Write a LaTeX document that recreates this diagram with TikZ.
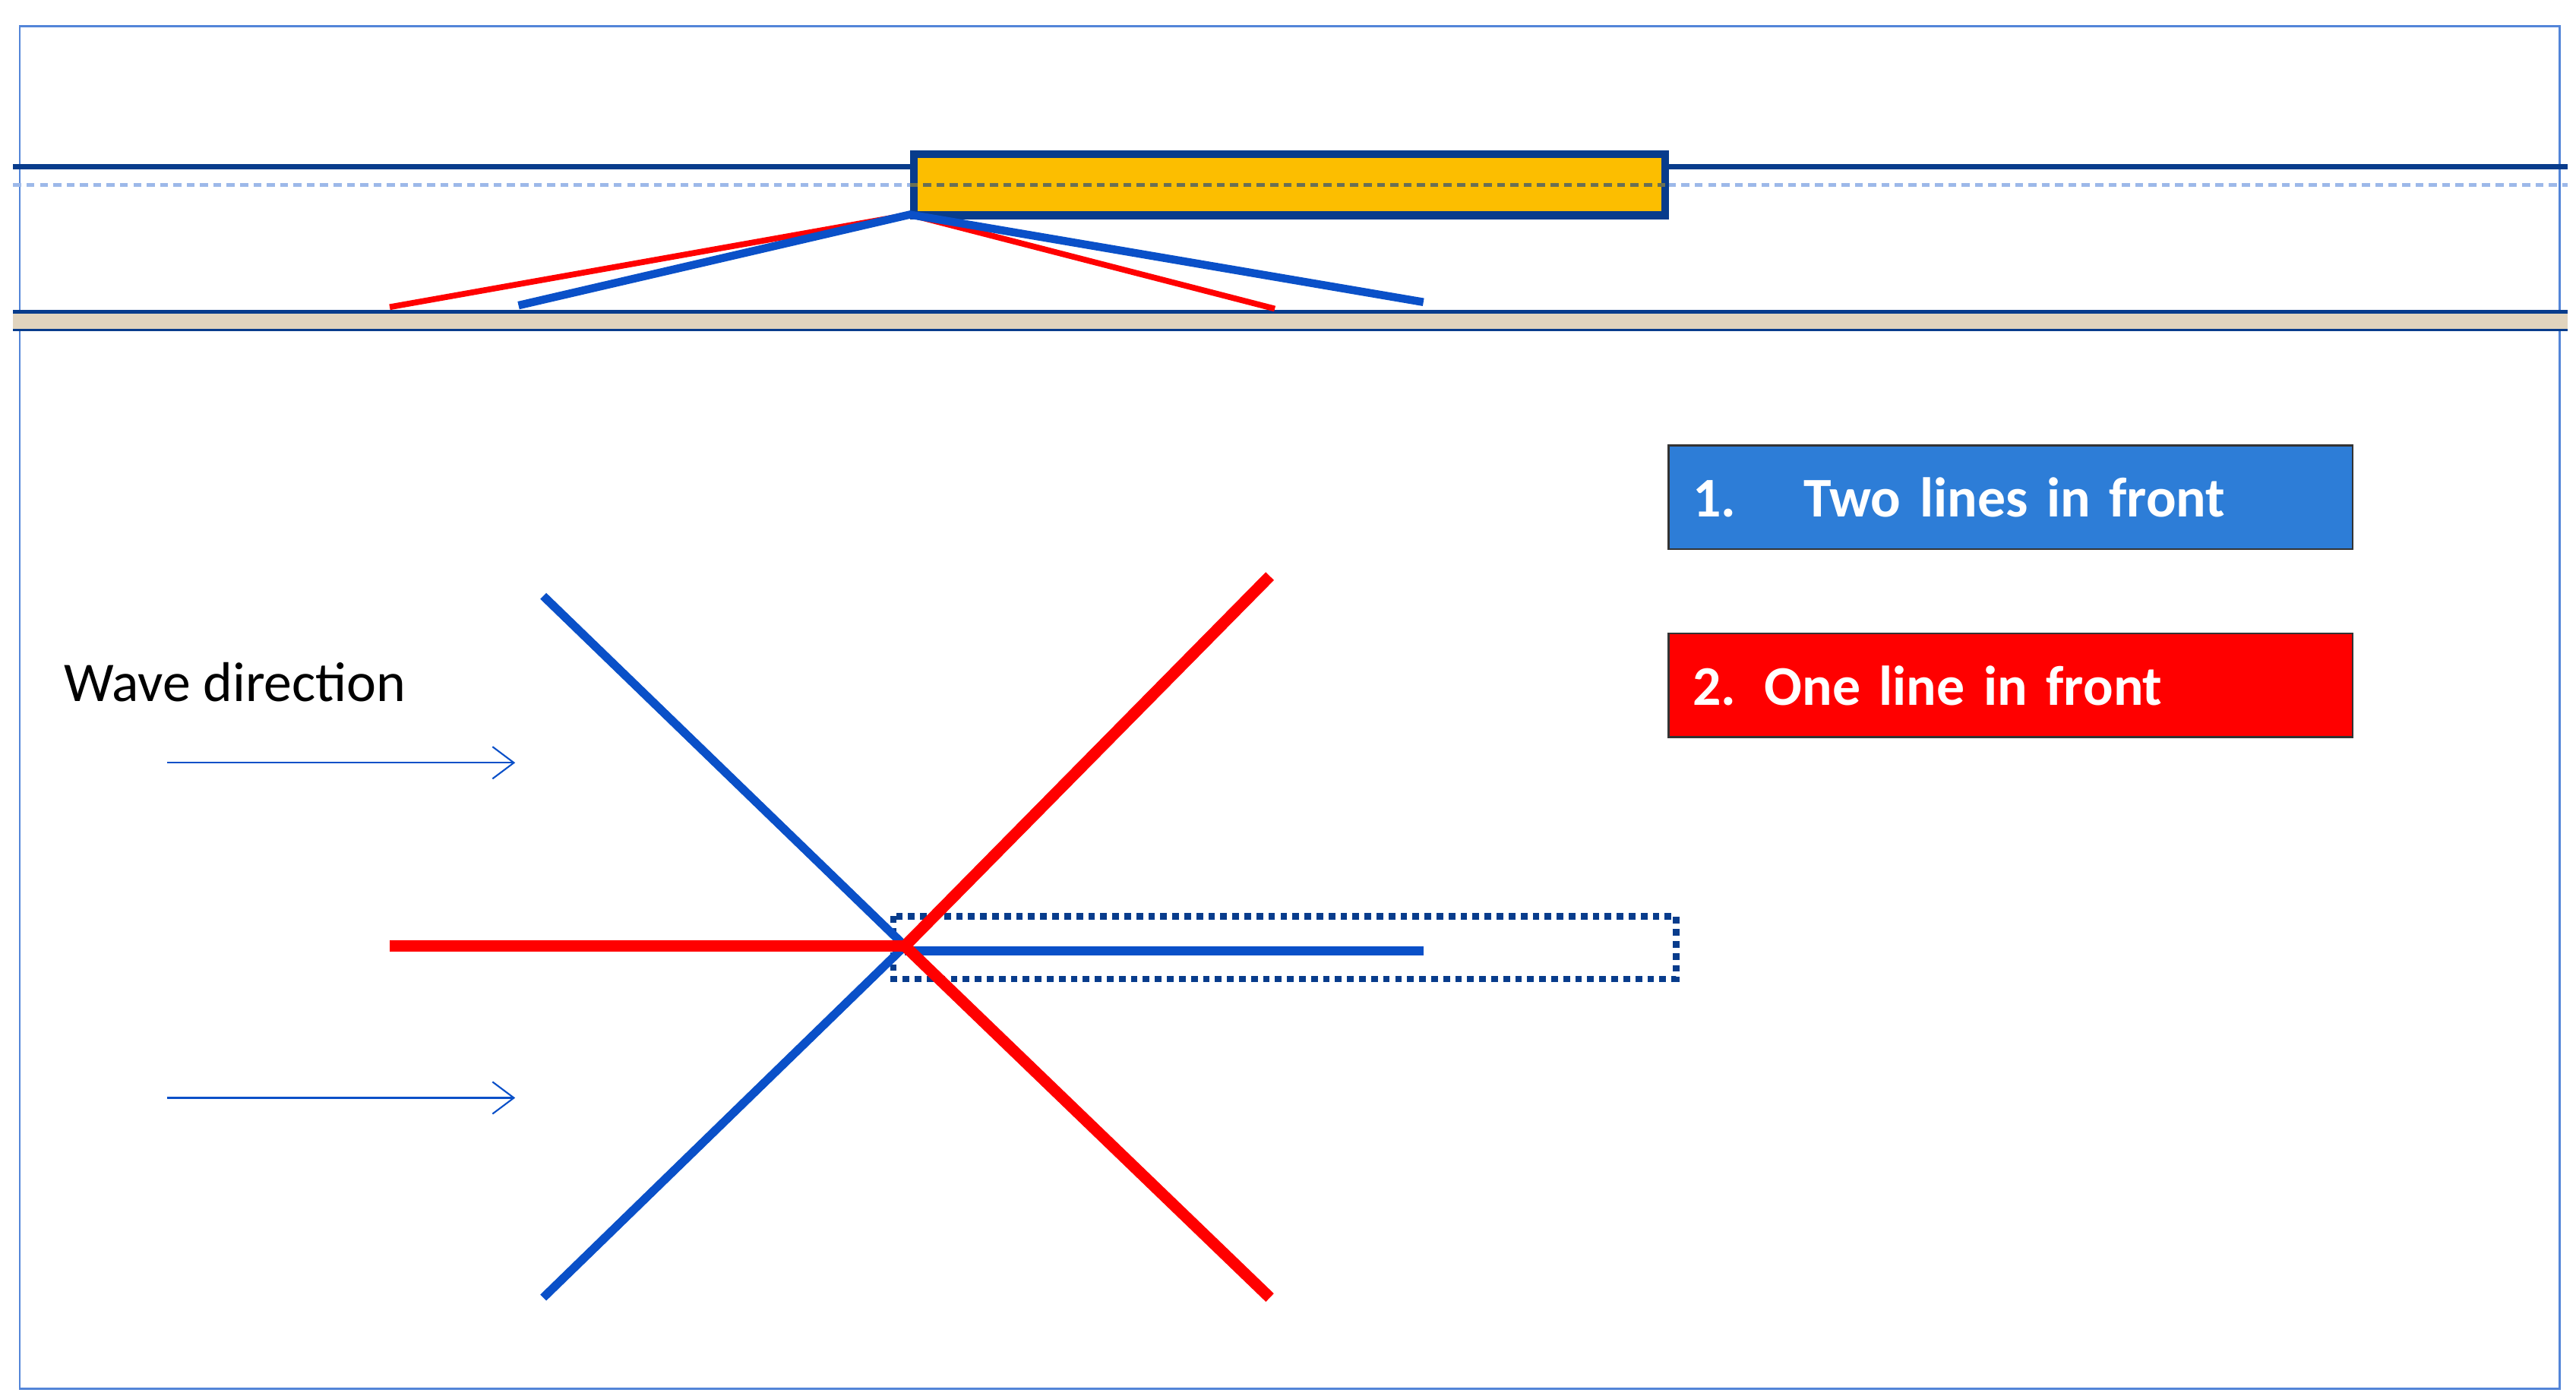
\documentclass[tikz,border=0pt]{standalone}
\usepackage{fontspec}
\setmainfont{Carlito}
\usetikzlibrary{arrows.meta}
\definecolor{lineblue}{RGB}{10,80,200}
\definecolor{darkblue}{RGB}{8,60,140}
\definecolor{boxblue}{RGB}{45,125,215}
\definecolor{gold}{RGB}{252,190,0}
\definecolor{sand}{RGB}{225,212,190}
\tikzset{
    blueline/.style={lineblue, line width=3.2pt},
    redline/.style={red, line width=4.3pt},
    legend/.style={draw=black!80, line width=0.8pt, minimum height=63*0.02174cm,
        text width=385*0.02174cm, align=left, text=white, font=\fontsize{21}{24}\selectfont\bfseries,
        anchor=north west, inner xsep=9pt, inner ysep=0pt},
    wave/.style={lineblue, line width=0.6pt, -{Straight Barb[length=8pt,width=12pt]}}
}
\begin{document}
\begin{tikzpicture}[x=0.02174cm, y=-0.02174cm]
\useasboundingbox (0,0) rectangle (1560,847);
\draw[lineblue!70, line width=0.8pt] (12,16) rectangle (1550,841);

% top view
\draw[darkblue, line width=2pt] (8,101) -- (1555,101);
\draw[lineblue!40, line width=1.2pt, dash pattern=on 3pt off 2pt] (8,112) -- (1555,112);
\fill[sand] (8,189) rectangle (1555,200);
\draw[darkblue, line width=1.5pt] (8,189) -- (1555,189);
\draw[darkblue, line width=1pt] (8,200) -- (1555,200);
\node[draw=darkblue, line width=3pt, fill=gold, anchor=north west, minimum width=455*0.02174cm,
    minimum height=37*0.02174cm, inner sep=0pt] (float) at (551,91) {};
\draw[darkblue!60!gold, line width=1.2pt, dash pattern=on 3pt off 2pt] (551,112) -- (1009,112);
\coordinate (apex) at (551,130);
\draw[red, line width=2.2pt] (236,186) -- (apex) -- (772,187);
\draw[lineblue, line width=3pt] (314,185) -- (apex) -- (862,183);

% plan view
\coordinate (hub) at (548,573);
\draw[darkblue, line width=2.5pt, dotted] (541,555) rectangle (1015,593);
\draw[blueline] (329,361) -- (hub) -- (329,786);
\draw[blueline] (548,576) -- (862,576);
\draw[redline] (769,349) -- (hub) -- (769,786);
\draw[redline] (236,573) -- (hub);

\node[anchor=west, font=\fontsize{21}{24}\selectfont] (wavetext) at (33,413) {Wave direction};
\coordinate (w1a) at (101,462); \coordinate (w1b) at (312,462);
\coordinate (w2a) at (101,665); \coordinate (w2b) at (312,665);
\draw[wave] (w1a) -- (w1b);
\draw[wave] (w2a) -- (w2b);

\node[legend, fill=boxblue] (two) at (1010,269) {1.\hspace{1.2em}Two lines in front};
\node[legend, fill=red] (one) at (1010,383) {2. One line in front};
\end{tikzpicture}
\end{document}
